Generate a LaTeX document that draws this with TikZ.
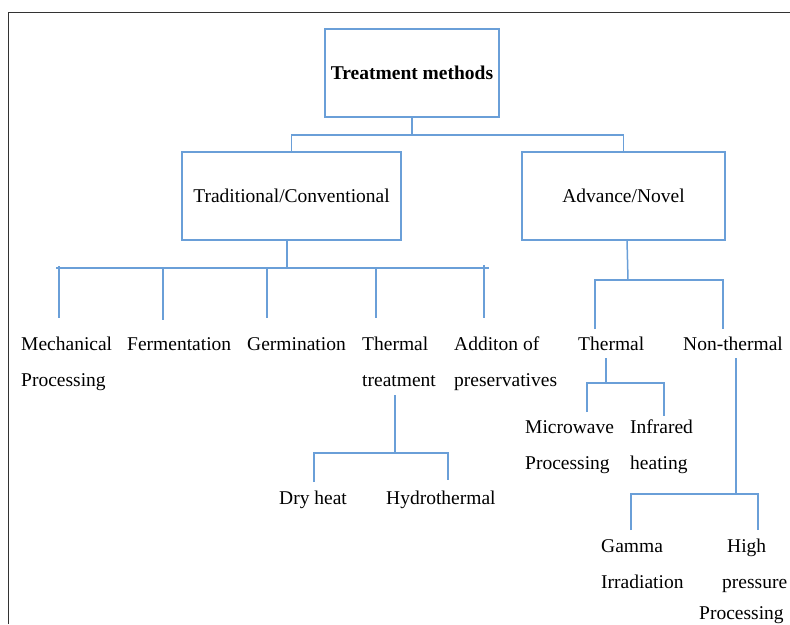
\documentclass[tikz,border=0pt]{standalone}
\usepackage{fontspec}
\setmainfont{Liberation Serif}
\definecolor{linkblue}{HTML}{6A9FD8}
\begin{document}
\begin{tikzpicture}[x=1pt,y=-1pt,
  lnk/.style={draw=linkblue,line width=1.5pt},
  boxnode/.style={draw=linkblue,line width=1.5pt,rectangle,inner sep=0pt,font=\fontsize{19.5}{36}\selectfont},
  lbl/.style={inner sep=0pt,anchor=base west,align=left,font=\fontsize{19.5}{36}\selectfont}]
\useasboundingbox (0,0) rectangle (790,624);
\draw[line width=1pt,black!80] (8,624) -- (8,12) -- (790,12);
% boxes
\node[boxnode,minimum width=174pt,minimum height=88pt] (top) at (412,73) {\textbf{Treatment methods}};
\node[boxnode,minimum width=219pt,minimum height=88pt] (trad) at (291.5,196) {Traditional/Conventional};
\node[boxnode,minimum width=203pt,minimum height=88pt] (adv) at (623.5,196) {Advance/Novel};
% labels (anchor = baseline of the last line)
\node[lbl] (mech) at (21,386) {Mechanical\\Processing};
\node[lbl] (ferm) at (127,350) {Fermentation};
\node[lbl] (germ) at (247,350) {Germination};
\node[lbl] (thtr) at (362,386) {Thermal\\treatment};
\node[lbl] (addp) at (454,386) {Additon of\\preservatives};
\node[lbl] (therm) at (578,350) {Thermal};
\node[lbl] (nonth) at (683,350) {Non-thermal};
\node[lbl] (dry) at (279,504) {Dry heat};
\node[lbl] (hydro) at (386,504) {Hydrothermal};
\node[lbl] (micro) at (525,469) {Microwave\\Processing};
\node[lbl] (infra) at (630,469) {Infrared\\heating};
\node[lbl] (gamma) at (601,588) {Gamma\\Irradiation};
\node[lbl] (hpp) at (699,619) {\hspace*{28pt}High\\\hspace*{23pt}pressure\\[-5pt]Processing};
% coordinates
\coordinate (tb) at (287,268);
\coordinate (ab) at (628,280);
\coordinate (ttb) at (395,453);
\coordinate (thb) at (606,383);
\coordinate (ntb) at (736,494);
% top level
\draw[lnk] (top.south) -- ++(0,17) -| (trad.north);
\draw[lnk] (top.south) ++(0,17) -| (adv.north);
% traditional
\draw[lnk] (trad.south -| tb) -- (tb);
\draw[lnk] (56,268) -- (489,268);
\draw[lnk] (59,266) -- (59,318);
\draw[lnk] (163,268) -- (163,320);
\draw[lnk] (267,268) -- (267,318);
\draw[lnk] (376,268) -- (376,318);
\draw[lnk] (484,265) -- (484,318);
% advance
\draw[lnk] (627,240) -- (ab);
\draw[lnk] (595,329) -- (595,280) -- (723,280) -- (723,329);
% thermal treatment
\draw[lnk] (395,395) -- (ttb);
\draw[lnk] (314,482) -- (314,453) -- (448,453) -- (448,480);
% thermal
\draw[lnk] (606,358) -- (thb);
\draw[lnk] (587,412) -- (587,383) -- (664,383) -- (664,416);
% non-thermal
\draw[lnk] (736,358) -- (ntb);
\draw[lnk] (631,530) -- (631,494) -- (758,494) -- (758,530);
\end{tikzpicture}
\end{document}
